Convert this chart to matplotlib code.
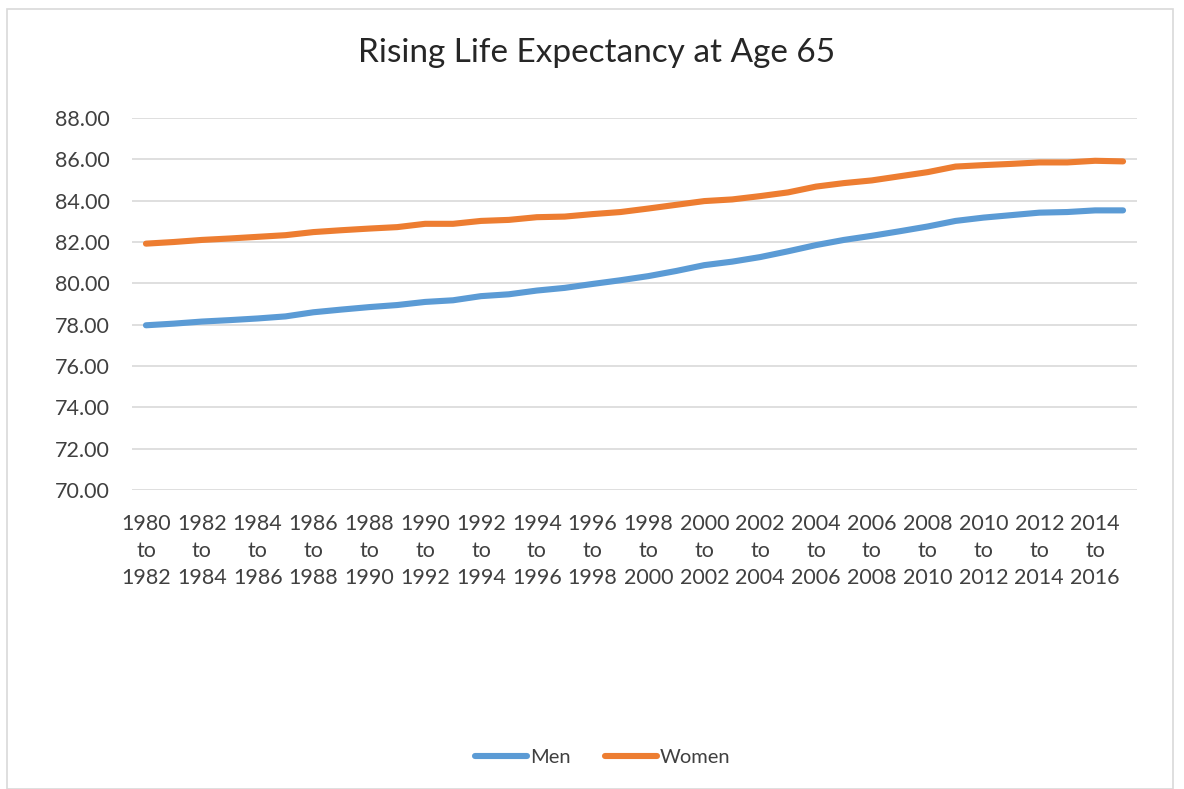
import matplotlib.pyplot as plt
from matplotlib.patches import Rectangle

plt.rcParams["font.family"] = ["Lato", "DejaVu Sans"]

start_years = list(range(1980, 2016))
men = [77.97, 78.05, 78.15, 78.22, 78.30, 78.40, 78.60, 78.73, 78.85, 78.95,
       79.10, 79.18, 79.38, 79.47, 79.65, 79.78, 79.97, 80.15, 80.35, 80.60,
       80.88, 81.05, 81.27, 81.55, 81.85, 82.10, 82.30, 82.52, 82.75, 83.02,
       83.18, 83.30, 83.42, 83.45, 83.53, 83.53]
women = [81.92, 82.00, 82.10, 82.17, 82.25, 82.33, 82.48, 82.57, 82.65, 82.72,
         82.88, 82.88, 83.02, 83.07, 83.20, 83.23, 83.35, 83.45, 83.62, 83.80,
         83.98, 84.06, 84.22, 84.40, 84.68, 84.85, 84.98, 85.18, 85.38, 85.65,
         85.72, 85.78, 85.85, 85.85, 85.93, 85.90]
yticks = [70, 72, 74, 76, 78, 80, 82, 84, 86, 88]

labels = [f"{y}\nto\n{y + 2}" for y in start_years]
x = list(range(len(start_years)))

fig = plt.figure(figsize=(11.84, 7.89), dpi=100)
fig.patches.append(Rectangle((7 / 1184, 0), 1166 / 1184, 780 / 789, transform=fig.transFigure,
                             fill=False, edgecolor="#d9d9d9", linewidth=1.2))
ax = fig.add_axes([132 / 1184, 1 - 490 / 789, 1005 / 1184, 372 / 789])

ax.plot(x, men, color="#5B9BD5", linewidth=4.4, solid_capstyle="round", label="Men")
ax.plot(x, women, color="#ED7D31", linewidth=4.4, solid_capstyle="round", label="Women")

ax.set_xlim(-0.5, len(x) - 0.5)
ax.set_ylim(70, 88)
ax.set_yticks(yticks)
ax.set_yticklabels([f"{v:.2f}" for v in yticks])
ax.set_xticks(x[::2])
ax.set_xticklabels(labels[::2], linespacing=1.45)
ax.tick_params(axis="both", length=0, labelsize=15.5, labelcolor="#404040")
ax.tick_params(axis="y", pad=16)
ax.tick_params(axis="x", pad=17)
ax.grid(axis="y", color="#d9d9d9", linewidth=1.2)
ax.set_axisbelow(True)
for s in ax.spines.values():
    s.set_visible(False)

fig.text(0.504, 1 - 53 / 789, "Rising Life Expectancy at Age 65", ha="center", va="center",
         fontsize=24, color="#262626")
fig.legend(loc="center", bbox_to_anchor=(0.509, 1 - 757 / 789), ncol=2, frameon=False,
           fontsize=14.5, handlelength=2.6, handletextpad=0.15, columnspacing=1.7,
           labelcolor="#404040")

fig.savefig("out.png", dpi=100)
